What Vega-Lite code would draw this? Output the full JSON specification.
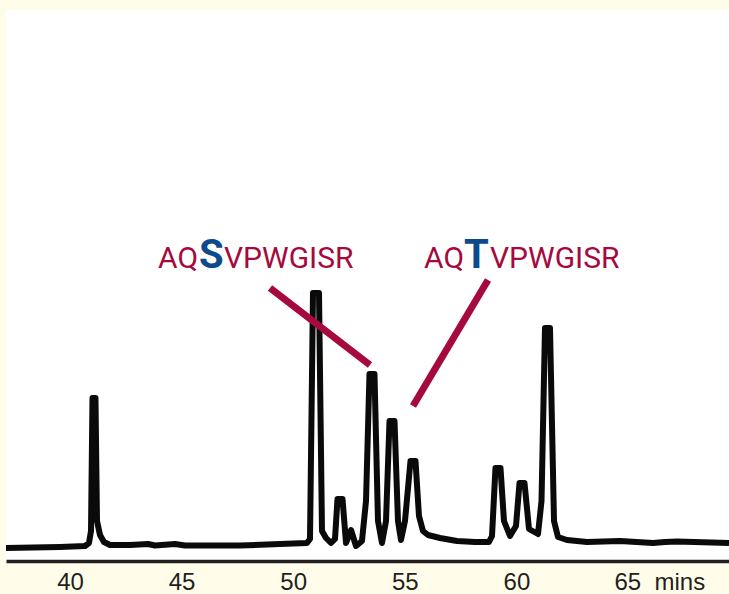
{
  "$schema": "https://vega.github.io/schema/vega-lite/v6.json",
  "description": "Chromatogram with the AQSVPWGISR and AQTVPWGISR peaks marked.",
  "width": 723,
  "height": 551,
  "autosize": "none",
  "padding": {"left": 6, "top": 10, "right": 0, "bottom": 33},
  "background": "#FFFDE9",
  "config": {"view": {"stroke": null, "fill": "#FFFFFF"}},
  "datasets": {
    "trace": [
      {"minutes": 37.133, "signal": 13},
      {"minutes": 39.552, "signal": 14},
      {"minutes": 40.672, "signal": 15},
      {"minutes": 40.851, "signal": 18},
      {"minutes": 40.941, "signal": 30},
      {"minutes": 41.008, "signal": 163},
      {"minutes": 41.142, "signal": 163},
      {"minutes": 41.21, "signal": 40},
      {"minutes": 41.344, "signal": 26},
      {"minutes": 41.523, "signal": 19},
      {"minutes": 41.792, "signal": 16},
      {"minutes": 42.688, "signal": 16},
      {"minutes": 43.495, "signal": 17},
      {"minutes": 43.808, "signal": 15.5},
      {"minutes": 44.704, "signal": 17},
      {"minutes": 45.152, "signal": 15.5},
      {"minutes": 47.616, "signal": 15.5},
      {"minutes": 49.409, "signal": 17},
      {"minutes": 50.618, "signal": 18},
      {"minutes": 50.753, "signal": 22},
      {"minutes": 50.887, "signal": 268},
      {"minutes": 51.156, "signal": 268},
      {"minutes": 51.29, "signal": 30},
      {"minutes": 51.47, "signal": 23},
      {"minutes": 51.694, "signal": 18},
      {"minutes": 51.873, "signal": 22},
      {"minutes": 51.985, "signal": 62},
      {"minutes": 52.209, "signal": 62},
      {"minutes": 52.366, "signal": 18},
      {"minutes": 52.59, "signal": 31},
      {"minutes": 52.814, "signal": 15},
      {"minutes": 53.082, "signal": 20},
      {"minutes": 53.262, "signal": 60},
      {"minutes": 53.418, "signal": 187},
      {"minutes": 53.642, "signal": 187},
      {"minutes": 53.799, "signal": 40},
      {"minutes": 53.978, "signal": 18},
      {"minutes": 54.158, "signal": 40},
      {"minutes": 54.315, "signal": 140},
      {"minutes": 54.539, "signal": 140},
      {"minutes": 54.695, "signal": 40},
      {"minutes": 54.83, "signal": 21},
      {"minutes": 55.009, "signal": 40},
      {"minutes": 55.255, "signal": 100},
      {"minutes": 55.479, "signal": 100},
      {"minutes": 55.636, "signal": 45},
      {"minutes": 55.815, "signal": 30},
      {"minutes": 56.039, "signal": 26},
      {"minutes": 56.577, "signal": 23},
      {"minutes": 57.339, "signal": 20},
      {"minutes": 58.145, "signal": 19},
      {"minutes": 58.772, "signal": 19},
      {"minutes": 58.907, "signal": 25},
      {"minutes": 59.063, "signal": 93},
      {"minutes": 59.287, "signal": 93},
      {"minutes": 59.444, "signal": 40},
      {"minutes": 59.713, "signal": 25},
      {"minutes": 59.982, "signal": 35},
      {"minutes": 60.139, "signal": 78},
      {"minutes": 60.363, "signal": 78},
      {"minutes": 60.565, "signal": 32},
      {"minutes": 60.968, "signal": 27},
      {"minutes": 61.125, "signal": 60},
      {"minutes": 61.281, "signal": 233},
      {"minutes": 61.505, "signal": 233},
      {"minutes": 61.685, "signal": 40},
      {"minutes": 61.864, "signal": 24},
      {"minutes": 62.267, "signal": 21},
      {"minutes": 63.163, "signal": 19},
      {"minutes": 64.642, "signal": 20},
      {"minutes": 66.12, "signal": 18},
      {"minutes": 66.658, "signal": 19},
      {"minutes": 67.195, "signal": 19.5},
      {"minutes": 69.525, "signal": 18}
    ],
    "leaders": [
      {"minutes": 48.961, "signal": 273, "minutes2": 53.441, "signal2": 196},
      {"minutes": 58.728, "signal": 281, "minutes2": 55.367, "signal2": 155}
    ],
    "peptide": [
      {"part": "AQ", "minutes": 43.943, "signal": 293},
      {"part": "VPWGISR", "minutes": 46.9, "signal": 293},
      {"part": "AQ", "minutes": 55.86, "signal": 293},
      {"part": "VPWGISR", "minutes": 58.817, "signal": 293}
    ],
    "site": [
      {"part": "S", "minutes": 45.78, "signal": 293},
      {"part": "T", "minutes": 57.652, "signal": 293}
    ]
  },
  "encoding": {
    "x": {
      "field": "minutes",
      "type": "quantitative",
      "scale": {"domain": [37.133, 69.525], "nice": false, "zero": false},
      "axis": {
        "title": null,
        "values": [40, 45, 50, 55, 60, 65],
        "labelExpr": "datum.value == 65 ? '65\u00a0\u00a0mins' : datum.label",
        "labelAlign": {"condition": {"test": "datum.value == 65", "value": "left"}, "value": "center"},
        "labelOffset": {"condition": {"test": "datum.value == 65", "value": -14}, "value": 0},
        "labelFont": "Liberation Sans",
        "labelFontSize": 24,
        "labelColor": "#231F20",
        "labelBaseline": "alphabetic",
        "labelPadding": 28,
        "labelBound": false,
        "labelFlush": false,
        "labelOverlap": false,
        "ticks": false,
        "grid": false,
        "domainColor": "#231F20",
        "domainWidth": 3.5
      }
    },
    "y": {
      "field": "signal",
      "type": "quantitative",
      "scale": {"domain": [0, 551], "nice": false, "zero": false},
      "axis": null
    }
  },
  "layer": [
    {
      "data": {"name": "trace"},
      "mark": {"type": "line", "color": "#0A0A0A", "strokeWidth": 6, "strokeJoin": "round", "strokeCap": "butt", "clip": true}
    },
    {
      "data": {"name": "leaders"},
      "mark": {"type": "rule", "color": "#A6093D", "strokeWidth": 7, "strokeCap": "butt"},
      "encoding": {
        "x2": {"field": "minutes2"},
        "y2": {"field": "signal2"}
      }
    },
    {
      "data": {"name": "peptide"},
      "mark": {"type": "text", "align": "left", "baseline": "alphabetic", "font": "Roboto", "fontSize": 30, "color": "#A6093D"},
      "encoding": {"text": {"field": "part"}}
    },
    {
      "data": {"name": "site"},
      "mark": {"type": "text", "align": "left", "baseline": "alphabetic", "font": "Roboto", "fontWeight": "bold", "fontSize": 40, "color": "#0C4A8C"},
      "encoding": {"text": {"field": "part"}}
    }
  ]
}
